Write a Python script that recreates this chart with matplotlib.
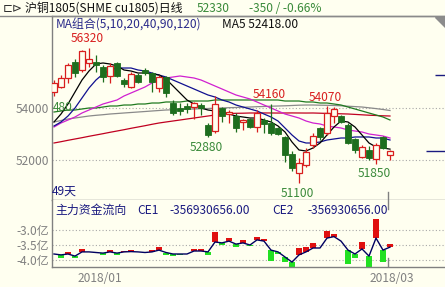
import numpy as np
import matplotlib
matplotlib.use('Agg')
import matplotlib.pyplot as plt
from matplotlib.patches import Polygon
from matplotlib.lines import Line2D

# ---- data ----
opens = [54615, 54808, 55154, 55770, 55460, 55730, 55770, 55577, 55230, 55730,
         55077, 54808, 55270, 55460, 55346, 54770, 55190, 54192, 54000, 54077,
         54038, 54115, 53346, 53115, 54000, 53770, 53692, 53460, 53577, 53270,
         53538, 53423, 53230, 52885, 52230, 51500, 51808, 52577, 53230, 53040,
         53692, 53692, 53346, 52808, 52115, 52385, 52038, 52885, 52190]
highs = [55077, 55270, 55730, 55885, 56230, 56320, 56040, 55654, 55730, 55770,
         55154, 55385, 55346, 55540, 55385, 55270, 55230, 54308, 54190, 54190,
         54230, 54192, 53423, 54460, 54038, 53923, 53808, 53577, 53615, 53923,
         53615, 54160, 53270, 52920, 52346, 52077, 52460, 53040, 53270, 54070,
         54038, 53730, 53423, 52846, 52577, 52540, 52654, 52920, 52385]
lows = [54460, 54770, 54960, 55190, 55385, 55577, 55385, 55000, 54960, 55192,
        54808, 54770, 54960, 55270, 54615, 54615, 54423, 53730, 53730, 53808,
        53577, 53730, 52880, 53040, 53460, 53423, 53077, 53154, 53230, 53077,
        53040, 52960, 52960, 51923, 51577, 51100, 51730, 52460, 52770, 52960,
        53423, 53420, 52615, 52270, 52077, 52000, 51850, 52420, 52000]
closes = [54960, 55154, 55654, 55346, 56190, 55885, 55654, 55192, 55615, 55230,
          54923, 55308, 55000, 55346, 55000, 55192, 54577, 53808, 53885, 53960,
          54192, 54000, 52960, 54154, 53692, 53846, 53230, 53538, 53270, 53808,
          53385, 53040, 53000, 52192, 51692, 51885, 52308, 52923, 52885, 53808,
          53962, 53460, 52654, 52385, 52500, 52077, 52577, 52460, 52330]

ma5 = [53462, 53769, 54154, 54615, 55077, 55423, 55692, 55731, 55692, 55615,
       55462, 55423, 55346, 55346, 55308, 55269, 55115, 54846, 54577, 54308,
       54154, 54000, 53923, 53885, 53846, 53769, 53692, 53654, 53615, 53615,
       53538, 53462, 53308, 53077, 52692, 52385, 52346, 52462, 52654, 52962,
       53269, 53500, 53462, 53269, 52962, 52654, 52500, 52462, 52418]
ma10 = [53308, 53462, 53692, 54000, 54385, 54769, 55077, 55308, 55462, 55538,
        55538, 55538, 55462, 55423, 55346, 55269, 55192, 55077, 54962, 54846,
        54731, 54615, 54500, 54423, 54308, 54231, 54115, 54038, 53962, 53885,
        53769, 53654, 53500, 53231, 52962, 52731, 52654, 52654, 52692, 52769,
        52808, 52846, 52846, 52885, 52885, 52885, 52846, 52846, 52769]
ma20 = [53269, 53423, 53538, 53654, 53808, 53923, 54038, 54154, 54231, 54308,
        54462, 54577, 54692, 54808, 54962, 55077, 55154, 55192, 55231, 55192,
        55154, 55077, 54962, 54846, 54731, 54615, 54500, 54423, 54346, 54231,
        54115, 54000, 53885, 53769, 53692, 53615, 53500, 53423, 53385, 53308,
        53269, 53231, 53154, 53115, 53077, 53000, 52962, 52923, 52846]
ma40 = [53846, 53885, 53923, 53923, 53962, 54000, 54000, 54038, 54077, 54077,
        54115, 54115, 54154, 54154, 54192, 54192, 54231, 54231, 54231, 54269,
        54269, 54269, 54269, 54308, 54308, 54308, 54308, 54308, 54308, 54308,
        54308, 54308, 54308, 54269, 54269, 54269, 54231, 54231, 54192, 54192,
        54154, 54115, 54038, 53962, 53885, 53808, 53731, 53654, 53538]
ma90 = [53462, 53519, 53577, 53615, 53654, 53692, 53719, 53742, 53769, 53788,
        53808, 53827, 53846, 53865, 53885, 53904, 53923, 53931, 53942, 53954,
        53962, 53973, 53981, 53992, 54000, 54012, 54019, 54031, 54038, 54050,
        54058, 54069, 54077, 54085, 54096, 54108, 54115, 54115, 54108, 54104,
        54096, 54085, 54069, 54054, 54038, 54008, 53977, 53942, 53904]
ma120 = [52654, 52704, 52758, 52808, 52858, 52912, 52962, 53012, 53065, 53115,
         53165, 53219, 53269, 53319, 53373, 53423, 53462, 53500, 53538, 53577,
         53615, 53654, 53692, 53731, 53769, 53788, 53796, 53800, 53808, 53808,
         53810, 53808, 53806, 53808, 53810, 53808, 53806, 53808, 53800, 53792,
         53785, 53777, 53769, 53754, 53738, 53723, 53712, 53700, 53692]

# main-force money flow (unit: 1e8), line value and bar end
nan = np.nan
flow = [-3.80, -3.83, -3.80, -3.87, -3.73, -3.73, -3.75, -3.77, -3.73, -3.77,
        -3.73, -3.72, -3.73, -3.75, -3.73, -3.67, -3.75, -3.80, -3.80, -3.80,
        -3.70, -3.70, -3.73, -3.40, -3.43, -3.37, -3.47, -3.43, -3.50, -3.33,
        -3.37, -3.67, -3.73, -3.90, -4.07, -3.83, -3.73, -3.60, -3.60, -3.27,
        -3.22, -3.37, -3.67, -3.80, -3.63, -3.87, -3.27, -3.67, -3.57]
flow_bar = [nan, -3.92, -3.72, -3.93, -3.63, nan, nan, -3.83, -3.68, -3.82,
            -3.70, -3.67, nan, nan, -3.68, -3.58, -3.82, -3.87, -3.83, nan,
            -3.62, -3.63, -3.83, -3.07, -3.50, -3.27, -3.58, -3.33, -3.53, -3.23,
            -3.30, -4.03, -3.80, -4.07, -4.25, -3.60, -3.57, -3.43, nan, -3.03,
            -3.13, nan, -4.13, -3.93, -3.40, -4.23, -2.63, -4.07, -3.47]

high_marks = [5, 31, 39]
low_marks = [22, 35, 46]
price_ticks = [54000, 52000]
flow_ticks = [-3.0, -3.5, -4.0]
flow_labels = ['-3.0亿', '-3.5亿', '-4.0亿']
date_pos = [6.5, 48.3]
date_labels = ['2018/01', '2018/03']
marker_lines = [(55270, 54.4), (52330, 53.1)]
edge_label = '480'      # tail of a label cut off by the left border
edge_label_price = 54038

last_price = 52330
change = -350
ma5_last = 52418.00
flow_last = -356930656.00

# ---- style ----
bg = '#fffff0'
red = '#d81e1e'
dkgreen = '#1e6e1e'
flow_red = '#e01010'
flow_green = '#22e022'
navy = '#1a1a80'
gray = '#808080'
txt_green = '#3a8a3a'
FS = 8.6

plt.rcParams['font.family'] = ['Noto Sans CJK SC', 'DejaVu Sans']

W, H = 445, 287
fig = plt.figure(figsize=(W / 100, H / 100), dpi=100, facecolor=bg)


def rect(l, t, r, b):
    return [l / W, 1 - b / H, (r - l) / W, (b - t) / H]


def ftext(x, y, s, **kw):
    fig.text(x / W, 1 - y / H, s, va='center', fontsize=FS, **kw)


ax = fig.add_axes(rect(52, 16, 445, 200))
axl = fig.add_axes(rect(52, 200, 445, 267), sharex=ax)
for a in (ax, axl):
    a.set_facecolor(bg)
    a.spines['right'].set_visible(False)
    for s in ('left', 'top', 'bottom'):
        a.spines[s].set_color(gray)
        a.spines[s].set_linewidth(1)
    a.tick_params(length=0, labelsize=FS, labelcolor=gray)
axl.spines['top'].set_visible(False)

x = np.arange(len(closes))
o = np.array(opens)
c = np.array(closes)
h = np.array(highs)
lo = np.array(lows)
up = c >= o

ax.set_xlim(-2 / 7, 391 / 7)
ax.set_ylim(50461.5, 57538.5)

for yv in price_ticks:
    ax.axhline(yv, color='#a8a8a8', lw=0.8, ls=(0, (1, 2)), zorder=1)

# moving averages
for vals, col in [(ma120, '#c00020'), (ma90, '#8a8a8a'), (ma40, '#207a20'),
                  (ma20, '#d020d0'), (ma10, '#101090'), (ma5, '#000000')]:
    ax.plot(x, vals, color=col, lw=0.9, zorder=2)

# candles
top = np.maximum(o, c)
bot = np.minimum(o, c)
ax.vlines(x[~up], lo[~up], h[~up], color=dkgreen, lw=0.9, zorder=3)
ax.bar(x[~up], (o - c)[~up], bottom=c[~up], width=0.72, color=dkgreen,
       edgecolor=dkgreen, lw=0.6, zorder=4)
ax.vlines(x[up], top[up], h[up], color=red, lw=0.9, zorder=3)
ax.vlines(x[up], lo[up], bot[up], color=red, lw=0.9, zorder=3)
ax.bar(x[up], np.maximum((c - o)[up], 15), bottom=o[up], width=0.72,
       facecolor=bg, edgecolor=red, lw=0.9, zorder=4)

for yv, x0 in marker_lines:
    ax.hlines(yv, x0, 55.86, color=navy, lw=1, zorder=2)

for i in high_marks:
    ax.annotate(str(highs[i]), (x[i], highs[i]), xytext=(-2, 9),
                textcoords='offset pixels', ha='center', va='center',
                color=red, fontsize=FS)
for i in low_marks:
    ax.annotate(str(lows[i]), (x[i], lows[i]), xytext=(-2, -10),
                textcoords='offset pixels', ha='center', va='center',
                color=txt_green, fontsize=FS)
ax.annotate(edge_label, (0, edge_label_price), xycoords=('axes fraction', 'data'),
            xytext=(1, 0), textcoords='offset pixels', ha='left', va='center',
            color=txt_green, fontsize=FS)

ax.set_yticks(price_ticks)
ax.set_yticklabels([str(v) for v in price_ticks])
ax.tick_params(axis='y', pad=2)
ax.tick_params(axis='x', labelbottom=False)
ax.axvline(47.7, ymin=0, ymax=0.045, color=gray, lw=1)

# lower panel
axl.set_ylim(-4.2333, -2.0)
for yv in flow_ticks:
    axl.axhline(yv, color='#a8a8a8', lw=0.8, ls=(0, (1, 2)), zorder=1)
fl = np.array(flow)
fb = np.array(flow_bar)
has = ~np.isnan(fb)
rising = has & (fb > fl)
falling = has & (fb < fl)
axl.bar(x[rising], (fb - fl)[rising], bottom=fl[rising], width=0.72,
        color=flow_red, zorder=2)
axl.bar(x[falling], (fb - fl)[falling], bottom=fl[falling], width=0.72,
        color=flow_green, zorder=2)
axl.plot(x, fl, color='#000060', lw=1, zorder=3)
axl.set_yticks(flow_ticks)
axl.set_yticklabels(flow_labels)
axl.tick_params(axis='y', pad=2)
axl.set_xticks(date_pos)
axl.set_xticklabels(date_labels)
axl.tick_params(axis='x', pad=3.5)
axl.axvline(47.7, ymin=0.87, ymax=1.0, color=gray, lw=1)
axl.axvline(47.7, ymin=0, ymax=0.14, color=gray, lw=1)

# frame pieces and texts
fig.add_artist(Line2D([0, 1], [1 - 16 / H] * 2, transform=fig.transFigure,
                      color='#8a8a8a', lw=1))
fig.add_artist(Polygon([[435 / W, 1 - 17 / H], [445 / W, 1 - 17 / H],
                        [445 / W, 1 - 27 / H]], closed=True,
                       transform=fig.transFigure, color='#8c8c8c'))

ftext(3, 8, '⊏⊳', color='#303030', family='DejaVu Sans')
ftext(25, 8, '沪铜1805(SHME cu1805)日线', color='#101010')
ftext(197, 8, str(last_price), color=txt_green)
pct = change / (last_price - change) * 100
ftext(249, 8, f'{change} / {pct:.2f}%', color=txt_green)
ftext(56, 25, 'MA组合(5,10,20,40,90,120)', color='#2a2a8a')
ftext(222, 25, f'MA5 {ma5_last:.2f}', color='#101010')
ftext(52, 191, f'{len(closes)}天', color=navy)
ftext(55, 210, '主力资金流向', color=navy)
ftext(137, 210, 'CE1', color=navy)
ftext(169, 210, f'{flow_last:.2f}', color=navy)
ftext(272, 210, 'CE2', color=navy)
ftext(307, 210, f'{flow_last:.2f}', color=navy)

fig.savefig('out.png', dpi=100, facecolor=bg)
